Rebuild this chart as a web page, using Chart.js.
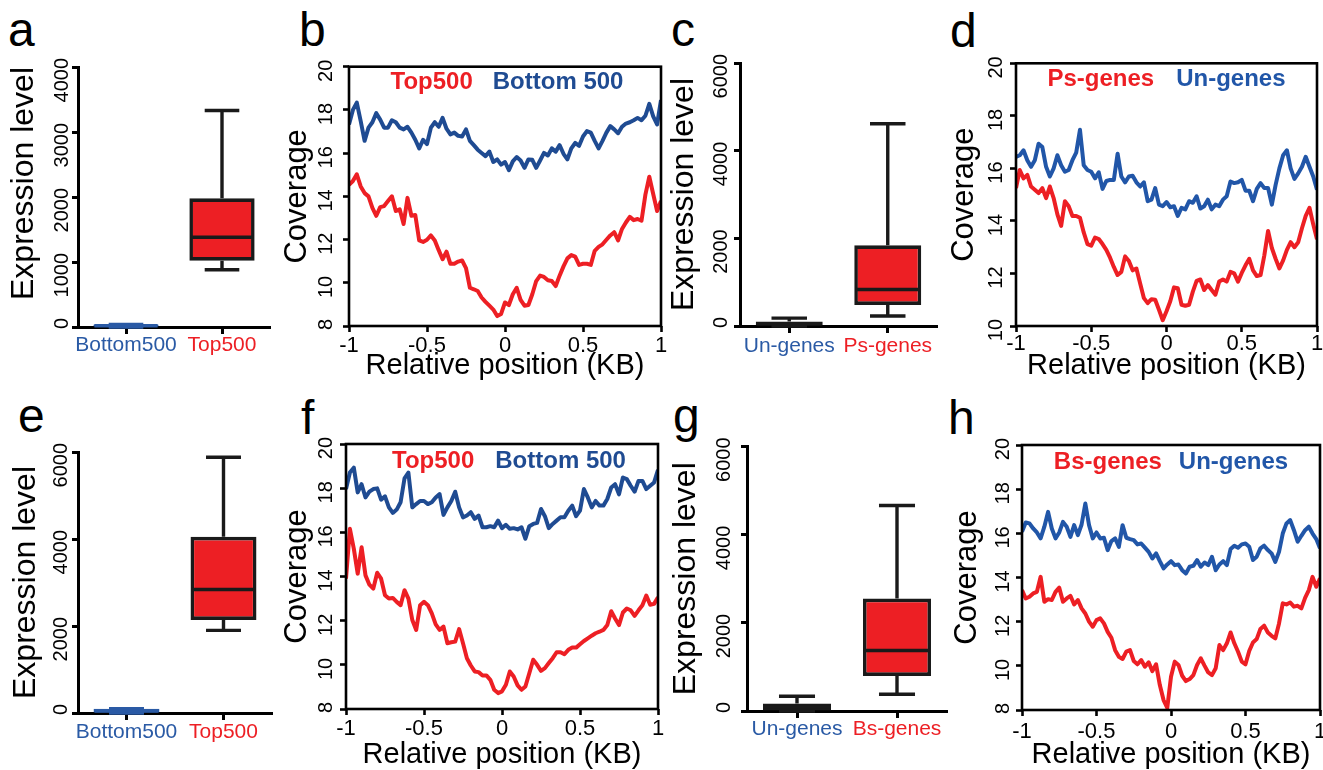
<!DOCTYPE html>
<html><head><meta charset="utf-8">
<script src="https://cdn.jsdelivr.net/npm/chart.js@4.4.1/dist/chart.umd.min.js"></script>
<style>
html,body{margin:0;padding:0;background:#fff;overflow:hidden;width:1323px;height:770px;position:relative;}
.lt{position:absolute;font-family:'Liberation Sans',Arial,Helvetica,sans-serif;font-size:48px;line-height:48px;color:#000;}
</style></head><body>
<div class="lt" style="left:8px;top:6px">a</div>
<div class="lt" style="left:299px;top:6px">b</div>
<div class="lt" style="left:671px;top:6px">c</div>
<div class="lt" style="left:950px;top:7px">d</div>
<div class="lt" style="left:18px;top:392px">e</div>
<div class="lt" style="left:301px;top:394px">f</div>
<div class="lt" style="left:673px;top:392px">g</div>
<div class="lt" style="left:948px;top:394px">h</div>
<script>
// ---------- data ----------
const posX = [-1,-0.975,-0.95,-0.925,-0.9,-0.875,-0.85,-0.825,-0.8,-0.775,-0.75,-0.725,-0.7,-0.675,-0.65,-0.625,-0.6,-0.575,-0.55,-0.525,
-0.5,-0.475,-0.45,-0.425,-0.4,-0.375,-0.35,-0.325,-0.3,-0.275,-0.25,-0.225,-0.2,-0.175,-0.15,-0.125,-0.1,-0.075,-0.05,-0.025,
0,0.025,0.05,0.075,0.1,0.125,0.15,0.175,0.2,0.225,0.25,0.275,0.3,0.325,0.35,0.375,0.4,0.425,0.45,0.475,
0.5,0.525,0.55,0.575,0.6,0.625,0.65,0.675,0.7,0.725,0.75,0.775,0.8,0.825,0.85,0.875,0.9,0.925,0.95,0.975,1];

const xTickValues = [-1,-0.5,0,0.5,1];
const covTicks8 = [8,10,12,14,16,18,20];
const covTicks10 = [10,12,14,16,18,20];
const exprTicks4000 = [0,1000,2000,3000,4000];
const exprTicks6000 = [0,2000,4000,6000];

// panel b
const bTop500 = [14.53,14.71,15.02,14.46,14.15,14.0,13.47,13.1,13.5,13.55,13.78,14.0,13.32,13.4,12.72,13.93,13.1,13.14,11.96,11.89,
11.99,12.19,11.96,11.51,11.09,11.44,10.88,10.88,10.98,11.03,10.68,9.77,9.7,9.62,9.32,9.12,8.94,8.76,8.46,8.56,
9.09,8.97,9.47,9.77,9.21,8.94,8.97,9.47,10.08,10.33,10.27,10.12,10.08,9.85,10.33,10.76,11.13,11.28,11.21,10.83,
10.88,10.88,10.83,11.48,11.66,11.78,11.99,12.19,12.34,11.96,12.49,12.79,13.05,12.9,12.95,12.87,14.08,14.91,14.11,13.32,13.78];
const bBottom500 = [17.33,18.0,18.34,17.48,16.57,17.18,17.43,17.85,17.55,17.18,17.18,17.52,17.43,17.18,17.1,17.22,16.95,16.62,16.22,16.62,
16.42,17.18,17.43,17.22,17.63,17.13,16.87,16.95,16.8,16.77,17.1,16.57,16.37,16.16,16.01,15.86,16.07,15.59,15.71,15.47,
15.59,15.21,15.62,15.82,15.66,15.32,15.71,15.69,15.32,15.66,16.01,15.89,16.22,16.07,16.37,15.97,15.71,16.22,16.47,16.34,
16.77,17.02,16.95,16.57,16.22,16.57,16.95,17.25,17.1,16.92,17.22,17.37,17.43,17.52,17.63,17.52,17.73,18.28,17.7,17.33,18.46];

// panel d
const dPsGenes = [15.25,15.94,15.62,15.75,15.31,15.19,15.06,15.25,14.87,15.31,14.87,14.25,13.81,14.75,14.56,14.19,14.19,14.12,13.56,13.12,
13.06,13.37,13.31,13.12,12.9,12.6,12.25,11.94,12.06,12.65,12.47,12.12,12.19,11.62,11.06,10.87,11.02,11.0,10.62,10.22,
10.56,10.94,11.47,11.44,10.81,10.77,10.81,11.31,11.72,11.77,11.37,11.56,11.37,11.19,11.69,11.77,11.69,12.06,12.0,11.69,
12.02,12.31,12.56,12.12,11.9,11.94,12.69,13.62,12.97,12.56,12.19,12.5,12.9,13.19,13.0,13.19,13.72,14.19,14.5,13.87,13.3];
const dUnGenes = [16.44,16.5,16.69,16.31,16.06,16.31,16.94,16.81,16.06,15.69,16.0,16.5,16.12,15.87,15.94,16.31,16.6,17.47,16.12,15.94,
15.87,15.62,15.85,15.22,15.52,15.56,15.56,16.56,15.69,15.47,15.69,15.72,15.47,15.31,15.47,14.75,14.81,15.25,14.62,14.56,
14.72,14.52,14.56,14.19,14.5,14.44,14.75,14.69,14.94,14.47,14.56,14.81,14.44,14.62,14.56,14.81,14.94,15.5,15.44,15.47,
15.56,15.15,15.15,14.75,15.22,15.44,15.25,15.25,14.62,15.37,16.0,16.5,16.69,16.0,15.6,15.81,16.06,16.44,16.06,15.69,15.19];

// panel f
const fTop500 = [13.9,16.16,15.26,14.13,15.32,14.05,13.63,13.45,14.17,13.9,13.15,13.0,13.03,12.85,12.7,13.38,13.0,12.03,11.58,12.7,
12.85,12.7,12.33,11.83,11.58,11.73,10.98,11.02,11.05,11.62,10.98,10.3,9.97,9.7,9.67,9.52,9.52,9.32,8.87,8.72,
8.8,9.1,9.7,9.47,9.07,8.87,9.02,9.62,10.23,10.0,9.73,9.85,10.08,10.3,10.57,10.57,10.48,10.68,10.78,10.78,
10.93,11.08,11.2,11.32,11.43,11.5,11.58,11.8,12.43,12.1,11.8,12.37,12.55,12.47,12.22,12.47,12.7,13.14,12.72,12.76,13.06];
const fBottom500 = [17.96,18.71,18.93,17.81,18.18,17.58,17.84,17.96,17.99,17.48,17.63,17.13,16.88,17.03,17.36,18.44,18.7,17.13,17.28,17.42,
17.42,17.28,17.36,17.58,17.73,16.79,17.13,17.42,17.84,17.13,16.68,16.76,16.91,16.61,16.76,16.23,16.23,16.28,16.23,16.53,
16.19,16.34,16.16,16.19,16.13,16.23,15.71,16.28,16.38,16.43,17.06,16.73,16.19,16.38,16.53,16.68,16.68,16.98,17.21,16.73,
16.98,17.96,17.58,17.13,17.42,17.21,17.21,17.51,18.03,18.18,17.72,18.48,18.41,18.11,17.84,18.33,18.33,17.96,18.11,18.26,18.83];

// panel h
const hBsGenes = [13.43,13.05,13.13,13.28,13.35,14.03,12.9,13.02,12.98,13.35,13.54,12.9,13.05,13.17,12.78,12.98,12.6,12.37,12.0,11.77,
12.07,12.15,11.92,11.54,11.27,10.71,10.41,10.31,10.64,10.71,10.22,10.07,10.26,9.96,10.16,9.76,10.07,9.13,8.45,8.1,
9.51,10.19,10.04,9.55,9.31,9.4,9.58,10.04,10.34,10.01,9.7,9.58,9.89,10.94,10.71,11.02,11.51,11.02,10.64,10.19,
10.07,10.67,11.06,11.21,11.67,11.82,11.51,11.36,11.24,11.92,12.83,12.78,12.87,12.68,12.72,12.6,13.08,13.43,14.03,13.58,13.96];
const hUnGenes = [16.07,16.49,16.45,16.22,16.04,15.77,16.3,16.97,16.22,15.77,16.04,16.52,16.3,15.84,16.37,15.92,16.4,17.35,16.37,15.77,
16.04,15.77,15.8,15.24,15.65,15.77,15.39,16.37,15.8,15.74,15.69,15.5,15.54,15.35,15.16,14.86,15.09,14.74,14.41,14.59,
14.74,14.56,14.59,14.33,14.18,14.49,14.53,14.79,14.49,14.68,14.56,14.94,14.33,14.59,14.74,14.56,15.29,15.44,15.35,15.5,
15.54,15.39,14.79,14.94,15.32,15.44,15.24,15.09,14.71,15.16,15.99,16.45,16.6,16.14,15.62,15.89,16.14,16.3,15.99,15.74,15.32];

// box plots: [first category, second category]
const aCats = ['Bottom500','Top500'];
const aMin = [0,880], aQ1 = [0,1020], aMed = [20,1380], aQ3 = [40,1980], aMax = [40,3330];
const cCats = ['Un-genes','Ps-genes'];
const cMin = [0,227], cQ1 = [0,480], cMed = [50,832], cQ3 = [100,1840], cMax = [180,4614];
const eCats = ['Bottom500','Top500'];
const eMin = [0,1900], eQ1 = [0,2140], eMed = [50,2840], eQ3 = [100,4050], eMax = [100,5880];
const gCats = ['Un-genes','Bs-genes'];
const gMin = [0,380], gQ1 = [0,795], gMed = [90,1373], gQ3 = [170,2550], gMax = [335,4660];

// ---------- styling ----------
const FONT = "'Liberation Sans', Arial, Helvetica, sans-serif";
Chart.defaults.font.family = FONT;
Chart.defaults.color = '#000';
Chart.defaults.animation = false;
const RED = '#ed1f24';
const BLUE_B = '#1f4b92';
const BLUE_D = '#2156a8';
const CAT_BLUE = '#2a5aa5';

function makeCanvas(L,T,W,H){
  const c = document.createElement('canvas');
  c.width = W; c.height = H;
  c.style.position = 'absolute'; c.style.left = L+'px'; c.style.top = T+'px';
  c.style.width = W+'px'; c.style.height = H+'px';
  document.body.appendChild(c);
  return c;
}

const framePlugin = {
  id: 'frame',
  afterDatasetsDraw(chart){
    const {ctx, chartArea:a} = chart;
    ctx.save();
    ctx.strokeStyle = '#000'; ctx.lineWidth = 2.6;
    ctx.strokeRect(a.left, a.top, a.right-a.left, a.bottom-a.top);
    ctx.restore();
  }
};

function tickMarks(len){
  return {display:true, drawOnChartArea:false, drawTicks:true, tickLength:len, tickWidth:2.6, tickColor:'#000'};
}

function lineChart(p){
  const c = makeCanvas(p.L,p.T,p.W,p.H);
  // in-plot coloured series labels, built from the dataset labels and colours
  const inlineLegend = {
    id:'inlineLegend',
    afterDatasetsDraw(chart){
      const {ctx, chartArea:a} = chart;
      const ds = chart.data.datasets;
      ctx.save();
      ctx.font = 'bold 24px ' + FONT;
      ctx.textBaseline = 'middle'; ctx.textAlign = 'left';
      const widths = ds.map(d => ctx.measureText(d.label).width);
      const total = widths.reduce((s,w)=>s+w,0) + p.lgap*(ds.length-1);
      let x = (a.left+a.right)/2 - total/2 + p.ldx;
      const y = a.top + p.ldy;
      ds.forEach((d,i)=>{ ctx.fillStyle = d.borderColor; ctx.fillText(d.label, x, y); x += widths[i] + p.lgap; });
      ctx.restore();
    }
  };
  new Chart(c, {
    type:'line',
    data:{ datasets: p.series.map(s => ({
      label:s.label, data: posX.map((x,i)=>({x:x, y:s.values[i]})),
      borderColor:s.color, backgroundColor:s.color, borderWidth:4,
      pointRadius:0, tension:0, fill:false, borderJoinStyle:'round'
    }))},
    options:{
      responsive:false, animation:false, events:[],
      layout:{padding:{top:p.pt,right:p.pr,left:0,bottom:0}},
      scales:{
        x:{type:'linear', min:-1, max:1,
          afterFit:s=>{s.height=p.xh;},
          afterBuildTicks:s=>{s.ticks=xTickValues.map(v=>({value:v}));},
          grid:tickMarks(6), border:{display:false},
          ticks:{font:{size:22,lineHeight:1}, color:'#000', padding:p.xpad, maxRotation:0, autoSkip:false, callback:v=>String(v)},
          title:{display:true, text:'Relative position (KB)', color:'#000', font:{size:29,lineHeight:1}, padding:{top:0,bottom:0}}
        },
        y:{type:'linear', min:p.ymin, max:20,
          afterFit:s=>{s.width=p.yw;},
          afterBuildTicks:s=>{s.ticks=p.yTicks.map(v=>({value:v}));},
          grid:tickMarks(6), border:{display:false},
          ticks:{font:{size:20,lineHeight:1}, color:'#000', padding:p.ypad, minRotation:90, maxRotation:90, labelOffset:-7, autoSkip:false, callback:v=>String(v)},
          title:{display:true, text:'Coverage', color:'#000', font:{size:31,lineHeight:1}, padding:{top:p.tpad,bottom:0}}
        }
      },
      plugins:{ tooltip:{enabled:false}, legend:{display:false} }
    },
    plugins:[framePlugin, inlineLegend]
  });
}

function boxChart(p){
  const c = makeCanvas(p.L,p.T,p.W,p.H);
  const whiskers = {
    id:'whiskers',
    afterDatasetsDraw(chart){
      const {ctx} = chart; const y = chart.scales.y;
      const meta = chart.getDatasetMeta(0);
      meta.data.forEach((bar,i)=>{
        const x = bar.x, w = bar.width;
        const pMin = y.getPixelForValue(p.min[i]), pMax = y.getPixelForValue(p.max[i]);
        const pQ1 = y.getPixelForValue(p.q1[i]), pQ3 = y.getPixelForValue(p.q3[i]);
        const pMed = y.getPixelForValue(p.med[i]);
        ctx.save();
        ctx.strokeStyle = p.stroke[i]; ctx.lineWidth = 3.4; ctx.lineCap = 'butt';
        ctx.beginPath();
        ctx.moveTo(x,pQ3); ctx.lineTo(x,pMax);
        ctx.moveTo(x,pQ1); ctx.lineTo(x,pMin);
        ctx.moveTo(x-w*0.265,pMax); ctx.lineTo(x+w*0.265,pMax);
        ctx.moveTo(x-w*0.265,pMin); ctx.lineTo(x+w*0.265,pMin);
        ctx.stroke();
        ctx.lineWidth = 3.6;
        ctx.beginPath(); ctx.moveTo(x-w/2+1,pMed); ctx.lineTo(x+w/2-1,pMed); ctx.stroke();
        ctx.restore();
      });
    }
  };
  new Chart(c, {
    type:'bar',
    data:{ labels:p.cats, datasets:[{
      data: p.q1.map((v,i)=>[v,p.q3[i]]),
      backgroundColor:p.fill, borderColor:p.stroke, borderWidth:3.6, borderSkipped:false,
      barPercentage:0.68, categoryPercentage:1
    }]},
    options:{
      responsive:false, animation:false, events:[],
      layout:{padding:{top:p.pt,right:p.pr,left:0,bottom:0}},
      scales:{
        x:{afterFit:s=>{s.height=40;},
          grid:Object.assign(tickMarks(7),{offset:false, tickWidth:3}),
          border:{display:true, width:3, color:'#000'},
          ticks:{font:{size:21,lineHeight:1}, color:ctx=>p.catColors[ctx.index], padding:p.xpad, maxRotation:0, autoSkip:false}
        },
        y:{type:'linear', min:0, max:p.ymax,
          afterFit:s=>{s.width=p.yw;},
          afterBuildTicks:s=>{s.ticks=p.yTicks.map(v=>({value:v}));},
          grid:Object.assign(tickMarks(6),{tickWidth:3}),
          border:{display:true, width:3, color:'#000'},
          ticks:{font:{size:20,lineHeight:1}, color:'#000', padding:p.ypad, minRotation:90, maxRotation:90, labelOffset:-9, autoSkip:false, callback:v=>String(v)},
          title:{display:true, text:'Expression level', align:p.talign, color:'#000', font:{size:32,lineHeight:1}, padding:{top:p.tpad,bottom:0}}
        }
      },
      plugins:{legend:{display:false}, tooltip:{enabled:false}}
    },
    plugins:[whiskers]
  });
}

// ---------- panels ----------
boxChart({L:0,T:40,W:285,H:327, yw:78, pt:27, pr:15, ypad:9.7, xpad:0.5, tpad:8.5, talign:'end',
  ymax:4000, yTicks:exprTicks4000, cats:aCats, min:aMin, q1:aQ1, med:aMed, q3:aQ3, max:aMax,
  fill:[CAT_BLUE,RED], stroke:[CAT_BLUE,'#1a1a1a'], catColors:[CAT_BLUE,RED]});
lineChart({L:280,T:40,W:396,H:340, yw:69, pt:21, pr:15, xh:54, ypad:16.7, xpad:2.7, tpad:2.4,
  ymin:8, yTicks:covTicks8, lgap:20, ldx:2, ldy:16,
  series:[{label:'Top500', values:bTop500, color:RED},{label:'Bottom 500', values:bBottom500, color:BLUE_B}]});
boxChart({L:660,T:40,W:292,H:326, yw:80, pt:22, pr:15, ypad:13, xpad:2.5, tpad:8.5, talign:'center',
  ymax:6000, yTicks:exprTicks6000, cats:cCats, min:cMin, q1:cQ1, med:cMed, q3:cQ3, max:cMax,
  fill:['#1a1a1a',RED], stroke:['#1a1a1a','#1a1a1a'], catColors:[CAT_BLUE,RED]});
lineChart({L:945,T:40,W:390,H:340, yw:71, pt:19, pr:18, xh:54, ypad:13.3, xpad:1.4, tpad:4.1,
  ymin:10, yTicks:covTicks10, lgap:22, ldx:0, ldy:16.5,
  series:[{label:'Ps-genes', values:dPsGenes, color:RED},{label:'Un-genes', values:dUnGenes, color:BLUE_D}]});
boxChart({L:0,T:420,W:287,H:333, yw:78, pt:32, pr:15, ypad:11, xpad:2.2, tpad:10.2, talign:'center',
  ymax:6000, yTicks:exprTicks6000, cats:eCats, min:eMin, q1:eQ1, med:eMed, q3:eQ3, max:eMax,
  fill:[CAT_BLUE,RED], stroke:[CAT_BLUE,'#1a1a1a'], catColors:[CAT_BLUE,RED]});
lineChart({L:280,T:420,W:393,H:349, yw:66, pt:23, pr:15, xh:60, ypad:14, xpad:3, tpad:2.4,
  ymin:8, yTicks:covTicks8, lgap:21, ldx:7, ldy:17.5,
  series:[{label:'Top500', values:fTop500, color:RED},{label:'Bottom 500', values:fBottom500, color:BLUE_B}]});
boxChart({L:660,T:420,W:302,H:331, yw:87, pt:22, pr:15, ypad:16.5, xpad:0.9, tpad:10.2, talign:'center',
  ymax:6000, yTicks:exprTicks6000, cats:gCats, min:gMin, q1:gQ1, med:gMed, q3:gQ3, max:gMax,
  fill:['#1a1a1a',RED], stroke:['#1a1a1a','#1a1a1a'], catColors:[CAT_BLUE,RED]});
lineChart({L:945,T:420,W:390,H:349, yw:77, pt:25, pr:15, xh:59, ypad:12.7, xpad:5.4, tpad:7.1,
  ymin:8, yTicks:covTicks8, lgap:17, ldx:0, ldy:17,
  series:[{label:'Bs-genes', values:hBsGenes, color:RED},{label:'Un-genes', values:hUnGenes, color:BLUE_D}]});
</script>
</body></html>
